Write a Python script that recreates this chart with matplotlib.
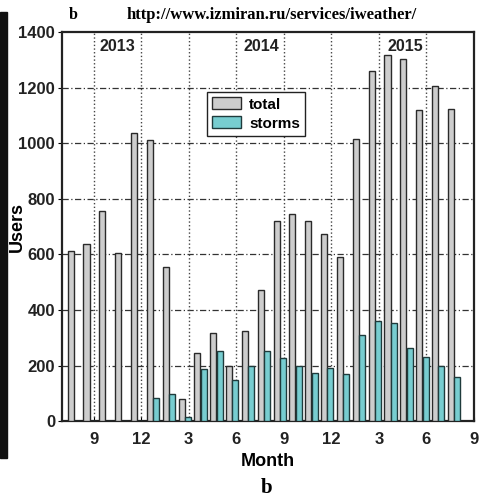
import matplotlib
matplotlib.use("Agg")
import matplotlib.pyplot as plt
from matplotlib.patches import Rectangle
import numpy as np

# Monthly counts, Aug 2013 .. Aug 2015 (month number counted from Jan 2013)
months = list(range(8, 33))
total = [613, 637, 757, 605, 1036, 1011, 553, 78, 245, 316, 198, 326, 472,
         721, 745, 721, 673, 589, 1014, 1258, 1318, 1301, 1121, 1206, 1123]
storms = [0, 0, 0, 0, 0, 83, 98, 15, 188, 254, 149, 198, 254,
          226, 200, 172, 190, 170, 311, 359, 353, 263, 230, 198, 158]

tick_pos = [9, 12, 15, 18, 21, 24, 27, 30, 33]
tick_lab = ["9", "12", "3", "6", "9", "12", "3", "6", "9"]
years = [("2013", 10.5), ("2014", 19.6), ("2015", 28.7)]

grey = "#cdcdcd"
cyan = "#77cdd0"
sans = "Liberation Sans"
serif = "Liberation Serif"

fig = plt.figure(figsize=(4.84, 4.99), dpi=100)
ax = fig.add_axes([0.128, 0.156, 0.851, 0.780])

x = np.array(months) - 0.25
w = 0.38
ax.bar(x - 0.2, total, width=w, color=grey, edgecolor="#2a2a2a", linewidth=1.0,
       label="total", zorder=3)
ax.bar(x + 0.2, storms, width=w, color=cyan, edgecolor="#1f3b3c", linewidth=1.0,
       label="storms", zorder=3)

ax.set_xlim(7, 33)
ax.set_ylim(0, 1400)
ax.set_xticks(tick_pos)
ax.set_xticklabels(tick_lab)
ax.set_yticks(range(0, 1401, 200))

for t in ax.get_xticklabels() + ax.get_yticklabels():
    t.set_fontfamily(sans)
    t.set_fontweight("bold")
    t.set_fontsize(12)
    t.set_color("#222222")

ax.tick_params(axis="x", direction="in", length=3, pad=8)
ax.tick_params(axis="y", direction="out", length=3, pad=2)

# dash-dot horizontal grid, dotted vertical grid
for yv in range(200, 1400, 200):
    ax.axhline(yv, color="#333333", linestyle=(0, (5, 2, 1, 2)), linewidth=0.9, zorder=1)
for xv in tick_pos[:-1]:
    ax.axvline(xv, color="#444444", linestyle=":", linewidth=1.0, zorder=1)

for sp in ax.spines.values():
    sp.set_linewidth(1.6)
    sp.set_color("#222222")

for label, xp in years:
    ax.text(xp, 1346, label, ha="center", va="center", fontfamily=sans,
            fontweight="bold", fontsize=11.5, color="#222222", zorder=4)

ax.set_xlabel("Month", fontfamily=sans, fontweight="bold", fontsize=13)
ax.xaxis.set_label_coords(0.5, -0.082)
ax.set_ylabel("Users", fontfamily=sans, fontweight="bold", fontsize=13)
ax.yaxis.set_label_coords(-0.088, 0.5)

leg = ax.legend(loc="upper left", bbox_to_anchor=(0.352, 0.846), borderaxespad=0,
                fancybox=False, edgecolor="#222222", framealpha=1,
                prop={"family": sans, "weight": "bold", "size": 11},
                handlelength=1.9, handleheight=0.85, handletextpad=0.5,
                labelspacing=0.3, borderpad=0.35)
leg.get_frame().set_linewidth(1.0)
leg.set_zorder(5)

fig.text(73 / 484, 1 - 15 / 499, "b", ha="center", va="center",
         fontfamily=serif, fontweight="bold", fontsize=11.5)
fig.text(272 / 484, 1 - 15 / 499, "http://www.izmiran.ru/services/iweather/",
         ha="center", va="center", fontfamily=serif, fontweight="bold", fontsize=12)
fig.text(267 / 484, 1 - 488 / 499, "b", ha="center", va="center",
         fontfamily=serif, fontweight="bold", fontsize=15)

# dark strip along the left edge of the panel
fig.patches.append(Rectangle((0, 41 / 499), 7 / 484, 446 / 499,
                             transform=fig.transFigure, color="#111111"))

fig.savefig("out.png", dpi=100)
